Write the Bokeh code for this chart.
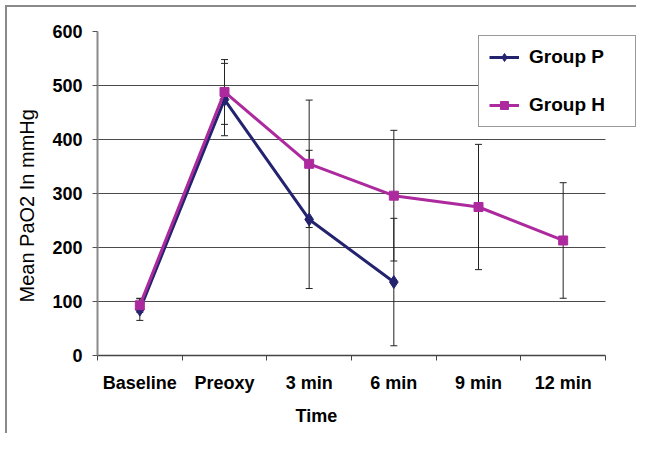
from bokeh.plotting import figure
from bokeh.models import (ColumnDataSource, Range1d, FixedTicker, Whisker, TeeHead,
                          Legend, LegendItem, Title, InlineStyleSheet)
from bokeh.embed import file_html
from bokeh.resources import INLINE

categories = ["Baseline", "Preoxy", "3 min", "6 min", "9 min", "12 min"]
p_mean = [85, 474, 252, 136]
p_err = [20, 67, 128, 118]
h_mean = [93, 488, 355, 296, 275, 213]
h_err = [13, 60, 118, 121, 116, 107]
y_ticks = [0, 100, 200, 300, 400, 500, 600]

P_COLOR = "#23236F"
H_COLOR = "#AC2A9E"
FONT = "Liberation Sans"

n = len(categories)
centers = [i + 0.5 for i in range(n)]
bounds = [float(i) for i in range(n + 1)]

src_p = ColumnDataSource(dict(x=centers[:len(p_mean)], y=p_mean,
                              lo=[m - e for m, e in zip(p_mean, p_err)],
                              hi=[m + e for m, e in zip(p_mean, p_err)]))
src_h = ColumnDataSource(dict(x=centers[:len(h_mean)], y=h_mean,
                              lo=[m - e for m, e in zip(h_mean, h_err)],
                              hi=[m + e for m, e in zip(h_mean, h_err)]))

W, H = 636, 433
LEFT, TOP, BOTTOM = 97, 31, 78
# 508 px for the 6 categories; the frame is extended to the right so the legend is not clipped
px_per_cat = 508 / n
x_end = (W - LEFT) / px_per_cat

p = figure(width=W, height=H, output_backend="svg", toolbar_location=None,
           x_range=Range1d(0, x_end), y_range=Range1d(0, 600),
           min_border_left=LEFT, min_border_right=0, min_border_top=TOP,
           min_border_bottom=BOTTOM)
p.outline_line_color = None
p.background_fill_color = "white"
p.border_fill_color = "white"
p.stylesheets = [InlineStyleSheet(css=(
    ":host::after{content:'';position:absolute;left:5px;top:5px;right:0;bottom:0;"
    "border-left:2px solid #8a8a8a;border-top:2px solid #8a8a8a;"
    "pointer-events:none;z-index:10;}"))]

# axes
p.xaxis.ticker = FixedTicker(ticks=centers, minor_ticks=bounds)
p.xaxis.bounds = (0, n)
p.xaxis.major_label_overrides = {c: lab for c, lab in zip(centers, categories)}
p.xaxis.major_tick_out = 0
p.xaxis.major_tick_in = 0
p.xaxis.minor_tick_out = 5
p.xaxis.minor_tick_in = 0
p.xaxis.minor_tick_line_color = "#444444"
p.xaxis.axis_line_color = "#444444"
p.xaxis.axis_line_width = 1.5
p.xaxis.major_label_standoff = 12

p.yaxis.ticker = FixedTicker(ticks=y_ticks)
p.yaxis.major_tick_out = 5
p.yaxis.major_tick_in = 0
p.yaxis.minor_tick_line_color = None
p.yaxis.major_tick_line_color = "#555555"
p.yaxis.axis_line_color = "#8a8a8a"
p.yaxis.axis_line_width = 2
p.yaxis.major_label_standoff = 10

for ax in (p.xaxis, p.yaxis):
    ax.major_label_text_font = FONT
    ax.major_label_text_font_size = "18px"
    ax.major_label_text_font_style = "bold"
    ax.major_label_text_color = "black"

p.xgrid.grid_line_color = None
p.ygrid.grid_line_color = "#4a4a4a"
p.ygrid.grid_line_width = 1
p.ygrid.cross_bounds = (0, n)

# error bars
for src in (src_p, src_h):
    w = Whisker(source=src, base="x", lower="lo", upper="hi", dimension="height",
                line_color="#222222", line_width=1,
                lower_head=TeeHead(size=7, line_color="#222222", line_width=1),
                upper_head=TeeHead(size=7, line_color="#222222", line_width=1))
    p.add_layout(w)

# series
lp = p.line("x", "y", source=src_p, line_color=P_COLOR, line_width=3)
mp = p.scatter("x", "y", source=src_p, marker="diamond", size=13,
               fill_color=P_COLOR, line_color=P_COLOR)
lh = p.line("x", "y", source=src_h, line_color=H_COLOR, line_width=3)
mh = p.scatter("x", "y", source=src_h, marker="square", size=9,
               fill_color=H_COLOR, line_color=H_COLOR)

legend = Legend(items=[LegendItem(label="Group P", renderers=[lp, mp]),
                       LegendItem(label="Group H", renderers=[lh, mh])],
                location=(381, 228), orientation="vertical",
                border_line_color="#333333", border_line_width=1,
                background_fill_color="white", background_fill_alpha=1,
                padding=10, spacing=26, glyph_height=20,
                glyph_width=30, label_standoff=10, label_width=96, margin=0,
                label_text_font=FONT, label_text_font_size="19px",
                label_text_font_style="bold", label_text_color="black")
p.add_layout(legend, "center")

# axis titles
ylab = Title(text="Mean PaO2 In mmHg", align="left", offset=53, standoff=24,
             text_font=FONT, text_font_size="20px", text_font_style="normal",
             text_color="black")
p.add_layout(ylab, "left")
xlab = Title(text="Time", align="left", offset=198, standoff=16,
             text_font=FONT, text_font_size="18px", text_font_style="bold",
             text_color="black")
p.add_layout(xlab, "below")

open("out.html", "w").write(file_html(p, INLINE))
